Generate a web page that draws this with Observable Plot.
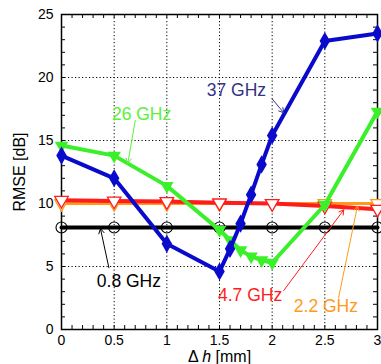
<!DOCTYPE html>
<html>
<head>
<meta charset="utf-8">
<script src="https://cdn.jsdelivr.net/npm/d3@7"></script>
<script src="https://cdn.jsdelivr.net/npm/@observablehq/plot@0.6"></script>
<style>
  html, body { margin: 0; padding: 0; background: white; }
  #chart { width: 381px; height: 364px; }
</style>
</head>
<body>
<div id="chart"></div>
<script>
// Δh [mm] sample positions and RMSE [dB] values
const dh37 = [0, 0.5, 1, 1.5, 1.6, 1.7, 1.8, 1.9, 2, 2.5, 3];
const rmse37 = [13.8, 12.0, 6.8, 4.6, 6.4, 8.4, 10.7, 13.1, 15.4, 22.9, 23.5];
const dh26 = [0, 0.5, 1, 1.5, 1.6, 1.7, 1.8, 1.9, 2, 2.5, 3];
const rmse26 = [14.6, 13.8, 11.4, 7.9, 7.1, 6.3, 5.8, 5.5, 5.3, 9.9, 17.3];
const dhLow = [0, 0.5, 1, 1.5, 2, 2.5, 3];
const rmse47 = [10.25, 10.2, 10.15, 10.05, 10.0, 9.8, 9.55];
const rmse22 = [10.0, 10.0, 10.0, 10.0, 10.0, 10.0, 10.0];
const rmse08 = [8.1, 8.1, 8.1, 8.1, 8.1, 8.1, 8.1];

const xTicks = [0, 0.5, 1, 1.5, 2, 2.5, 3];
const xTickLabels = ["0", "0.5", "1", "1.5", "2", "2.5", "3"];
const yTicks = [0, 5, 10, 15, 20, 25];
const yTickLabels = ["0", "5", "10", "15", "20", "25"];
const xMinor = d3.range(0, 31).map(i => i / 10);
const yMinor = d3.range(0, 26);

const seriesNames = ["37 GHz", "26 GHz", "4.7 GHz", "2.2 GHz", "0.8 GHz"];

const rows = (xs, ys) => xs.map((x, i) => ({x, y: ys[i]}));
const d37 = rows(dh37, rmse37);
const d26 = rows(dh26, rmse26);
const d47 = rows(dhLow, rmse47);
const d22 = rows(dhLow, rmse22);
const d08 = rows(dhLow, rmse08);

const C37 = "#0a0acc", C26 = "#3af02a", C47 = "#ff1c1c", C22 = "#ff9a1a", C08 = "#000000";
const font = "'Liberation Sans', Arial, Helvetica, sans-serif";

const W = 381, H = 364, mL = 61, mR = 4, mT = 14, mB = 35;
const pw = W - mL - mR, ph = H - mT - mB;

const ann = (text, x, y, color) => Plot.text([text], {x: () => x, y: () => y, text: d => d, fill: color, fontSize: 17.5, fontFamily: font, letterSpacing: "1.5px"});

const plot = Plot.plot({
  width: W, height: H,
  marginLeft: mL, marginRight: mR, marginTop: mT, marginBottom: mB,
  style: {fontFamily: font, fontSize: "14px", color: "black", background: "white", overflow: "visible"},
  x: {domain: [0, 3]},
  y: {domain: [0, 25]},
  marks: [
    Plot.gridX(xTicks, {stroke: "black", strokeOpacity: 1, strokeWidth: 1, strokeDasharray: "1.2,2.3"}),
    Plot.gridY(yTicks, {stroke: "black", strokeOpacity: 1, strokeWidth: 1, strokeDasharray: "1.2,2.3"}),
    Plot.tickX(xMinor, {x: d => d, insetTop: ph - 4, stroke: "black", strokeWidth: 1}),
    Plot.tickX(xMinor, {x: d => d, insetBottom: ph - 4, stroke: "black", strokeWidth: 1}),
    Plot.tickY(yMinor, {y: d => d, insetRight: pw - 4, stroke: "black", strokeWidth: 1}),
    Plot.tickY(yMinor, {y: d => d, insetLeft: pw - 4, stroke: "black", strokeWidth: 1}),
    Plot.axisX(xTicks, {tickSize: 0, tickPadding: 6, tickFormat: (d, i) => xTickLabels[i], fontSize: 14, letterSpacing: "0.8px", label: "Δ h [mm]", labelAnchor: "center", labelArrow: "none", labelOffset: 32}),
    Plot.axisY(yTicks, {tickSize: 0, tickPadding: 8, tickFormat: (d, i) => yTickLabels[i], fontSize: 14, letterSpacing: "0.8px", label: "RMSE [dB]", labelAnchor: "center", labelArrow: "none", labelOffset: 48}),
    Plot.frame({stroke: "black", strokeWidth: 1.5}),
    // 2.2 GHz
    Plot.line(d22, {x: "x", y: "y", stroke: C22, strokeWidth: 3}),
    Plot.dot(d22, {x: "x", y: "y", symbol: "triangle", rotate: 180, r: 5, fill: "white", stroke: C22, strokeWidth: 1.3}),
    // 4.7 GHz
    Plot.line(d47, {x: "x", y: "y", stroke: C47, strokeWidth: 4}),
    Plot.dot(d47, {x: "x", y: "y", symbol: "triangle", rotate: 180, r: 5, fill: "white", stroke: C47, strokeWidth: 1.3}),
    // 0.8 GHz
    Plot.line(d08, {x: "x", y: "y", stroke: C08, strokeWidth: 4}),
    Plot.dot(d08, {x: "x", y: "y", r: 5.5, fill: "none", stroke: C08, strokeWidth: 1.1}),
    // 26 GHz
    Plot.line(d26, {x: "x", y: "y", stroke: C26, strokeWidth: 4}),
    Plot.dot(d26, {x: "x", y: "y", symbol: "triangle", rotate: 180, r: 5, fill: C26}),
    // 37 GHz
    Plot.line(d37, {x: "x", y: "y", stroke: C37, strokeWidth: 4}),
    Plot.dot(d37, {x: "x", y: "y", symbol: "diamond", r: 5.5, fill: C37}),
    // annotations
    Plot.arrow([0], {x1: () => 2.0, y1: () => 18.3, x2: () => 2.11, y2: () => 17.2, stroke: "#333388", strokeWidth: 1, headLength: 8}),
    Plot.arrow([0], {x1: () => 0.70, y1: () => 16.6, x2: () => 0.63, y2: () => 13.2, stroke: "#5cf03c", strokeWidth: 1, headLength: 8}),
    Plot.arrow([0], {x1: () => 0.45, y1: () => 4.9, x2: () => 0.37, y2: () => 8.0, stroke: "black", strokeWidth: 1, headLength: 8}),
    Plot.arrow([0], {x1: () => 2.11, y1: () => 3.1, x2: () => 2.68, y2: () => 9.5, stroke: C47, strokeWidth: 1, headLength: 8}),
    Plot.arrow([0], {x1: () => 2.63, y1: () => 2.5, x2: () => 2.81, y2: () => 9.8, stroke: C22, strokeWidth: 1, headLength: 8}),
    ann(seriesNames[0], 1.66, 19.0, "#333388"),
    ann(seriesNames[1], 0.76, 17.1, "#5cf03c"),
    ann(seriesNames[4], 0.64, 3.8, "black"),
    ann(seriesNames[2], 1.79, 2.7, C47),
    ann(seriesNames[3], 2.51, 1.8, C22)
  ]
});

// italic h in the x-axis label
d3.select(plot).selectAll("text").each(function() {
  const t = d3.select(this);
  const s = t.text();
  if (s === "Δ h [mm]") {
    t.text(null);
    t.append("tspan").text("Δ ");
    t.append("tspan").attr("font-style", "italic").text("h");
    t.append("tspan").text(" [mm]");
    t.attr("font-size", 16);
  }
  if (s === "RMSE [dB]") t.attr("font-size", 16);
});

document.getElementById("chart").appendChild(plot);
</script>
</body>
</html>
